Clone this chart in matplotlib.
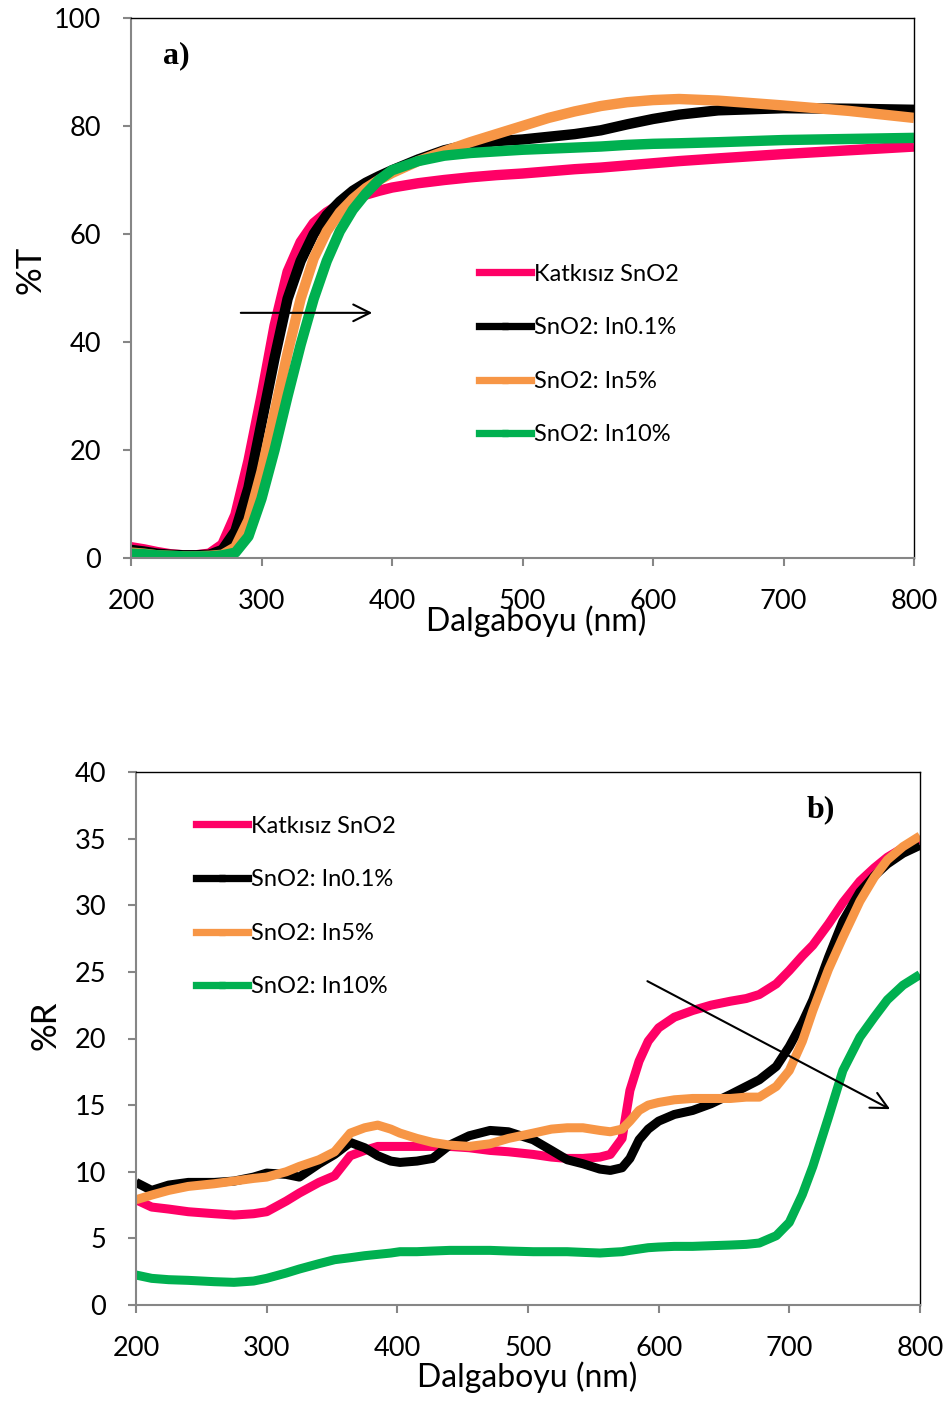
import matplotlib
matplotlib.use("Agg")
import matplotlib.pyplot as plt
from matplotlib.lines import Line2D

plt.rcParams['font.family'] = ['Lato', 'DejaVu Sans']

# ---------------- Panel a: Transmittance ----------------
wl_a = [200, 210, 220, 230, 240, 250, 260, 270, 280, 290, 300, 310, 320, 330, 340, 350,
        360, 370, 380, 390, 400, 420, 440, 460, 480, 500, 520, 540, 560, 580, 600, 620,
        650, 700, 750, 800]
T_undoped = [2.0, 1.6, 1.1, 0.7, 0.5, 0.5, 0.8, 2.5, 8, 18, 30, 43, 53, 58.5, 62, 64,
             65.5, 66.5, 67.3, 68, 68.6, 69.4, 70.0, 70.5, 70.9, 71.2, 71.6, 72.0, 72.3, 72.7, 73.1, 73.5,
             74.0, 74.8, 75.5, 76.2]
T_in01 = [1.5, 1.2, 0.8, 0.6, 0.5, 0.5, 0.6, 1.5, 5, 13, 25, 37, 48, 55, 60, 63.5,
          66, 68, 69.5, 70.7, 71.8, 73.8, 75.5, 76.6, 77.2, 77.5, 78.0, 78.5, 79.2, 80.3, 81.3, 82.1,
          82.9, 83.3, 83.2, 83.0]
T_in5 = [1.0, 0.8, 0.5, 0.4, 0.3, 0.3, 0.4, 0.6, 2, 7, 16, 27, 38, 48, 55.5, 60.5,
         64, 66.5, 68.5, 70.0, 71.3, 73.5, 75.3, 77.0, 78.5, 80.0, 81.5, 82.7, 83.7, 84.4, 84.8, 85.0,
         84.7, 83.8, 82.8, 81.5]
T_in10 = [0.8, 0.7, 0.5, 0.4, 0.3, 0.3, 0.3, 0.5, 1, 4, 11, 20, 30, 39.5, 48, 55,
          60.5, 64.5, 67.5, 70.0, 71.8, 73.5, 74.5, 75.0, 75.3, 75.6, 75.8, 76.0, 76.2, 76.5, 76.7, 76.8,
          77.0, 77.4, 77.6, 77.8]

# ---------------- Panel b: Reflectance ----------------
wl_b = [200, 212, 225, 240, 260, 275, 290, 300, 315, 325, 340, 352, 364, 375, 385, 395,
        402, 415, 427, 440, 455, 471, 485, 504, 518, 530, 542, 555, 563, 572, 578, 585,
        592, 600, 612, 626, 640, 655, 667, 677, 690, 700, 710, 718, 730, 741, 754, 765,
        775, 787, 800]
R_undoped = [7.9, 7.35, 7.2, 7.0, 6.85, 6.75, 6.85, 7.0, 7.8, 8.4, 9.2, 9.7, 11.2, 11.6, 11.9, 11.9,
             11.9, 11.9, 11.9, 11.9, 11.8, 11.6, 11.5, 11.3, 11.1, 11.0, 11.0, 11.1, 11.3, 12.5, 16.1, 18.3,
             19.8, 20.8, 21.6, 22.1, 22.5, 22.8, 23.0, 23.3, 24.1, 25.1, 26.2, 27.0, 28.6, 30.2, 31.8, 32.8,
             33.6, 34.3, 35.0]
R_in01 = [9.2, 8.6, 9.0, 9.2, 9.2, 9.3, 9.6, 9.9, 9.8, 9.6, 10.6, 11.3, 12.2, 11.8, 11.2, 10.8,
          10.7, 10.8, 11.0, 12.0, 12.7, 13.1, 13.0, 12.4, 11.6, 10.9, 10.6, 10.2, 10.1, 10.3, 11.0, 12.4,
          13.2, 13.8, 14.3, 14.6, 15.1, 15.8, 16.4, 16.9, 17.9, 19.4, 21.2, 22.9, 26.1, 28.8, 31.0, 32.2,
          33.1, 33.9, 34.5]
R_in5 = [7.9, 8.25, 8.6, 8.9, 9.1, 9.3, 9.5, 9.6, 10.0, 10.4, 10.9, 11.5, 12.9, 13.3, 13.5, 13.2,
         12.9, 12.5, 12.2, 12.0, 11.9, 12.1, 12.5, 12.9, 13.2, 13.3, 13.3, 13.1, 13.0, 13.2, 13.8, 14.6,
         15.0, 15.2, 15.4, 15.5, 15.5, 15.5, 15.6, 15.6, 16.4, 17.6, 19.8, 22.1, 25.2, 27.6, 30.3, 32.1,
         33.4, 34.4, 35.2]
R_in10 = [2.25, 2.0, 1.9, 1.85, 1.75, 1.7, 1.8, 2.0, 2.4, 2.7, 3.1, 3.4, 3.55, 3.7, 3.8, 3.9,
          4.0, 4.0, 4.05, 4.1, 4.1, 4.1, 4.05, 4.0, 4.0, 4.0, 3.95, 3.9, 3.95, 4.0, 4.1, 4.2,
          4.3, 4.35, 4.4, 4.4, 4.45, 4.5, 4.55, 4.65, 5.2, 6.2, 8.3, 10.4, 14.1, 17.6, 20.1, 21.6,
          22.9, 24.0, 24.8]

labels = ['Katkısız SnO2', 'SnO2: In0.1%', 'SnO2: In5%', 'SnO2: In10%']
colors = ['#FF0066', '#000000', '#F79646', '#00B050']
markers = ['D', 's', '^', 's']
msizes = [3, 5, 4, 5]

W, H = 946, 1401
fig = plt.figure(figsize=(W / 100, H / 100), dpi=100)

axA = fig.add_axes([131 / W, 1 - 558 / H, (914 - 131) / W, (558 - 18) / H])
axB = fig.add_axes([136 / W, 1 - 1305 / H, (920 - 136) / W, (1305 - 772) / H])

GRAY = '#868686'


def style(ax):
    for s in ['left', 'bottom']:
        ax.spines[s].set_color(GRAY)
        ax.spines[s].set_linewidth(1.5)
    for s in ['top', 'right']:
        ax.spines[s].set_color('black')
        ax.spines[s].set_linewidth(1.0)
    ax.tick_params(axis='both', direction='out', color=GRAY, width=1.5, length=5.5,
                   labelsize=19.5, labelcolor='black')
    ax.tick_params(axis='x', pad=17)
    ax.tick_params(axis='y', pad=16)


LW = 7.5
series_a = [T_undoped, T_in01, T_in5, T_in10]
for y, c in zip(series_a, colors):
    axA.plot(wl_a, y, color=c, lw=LW, solid_joinstyle='round', solid_capstyle='butt')
axA.set_xlim(200, 800)
axA.set_ylim(0, 100)
axA.set_xticks([200, 300, 400, 500, 600, 700, 800])
axA.set_yticks([0, 20, 40, 60, 80, 100])
style(axA)
axA.set_xlabel('Dalgaboyu (nm)', fontsize=23)
axA.xaxis.set_label_coords(0.518, -0.088)
axA.set_ylabel('%T', fontsize=25)
axA.yaxis.set_label_coords(-0.108, 0.533)
axA.text(0.041, 0.931, 'a)', transform=axA.transAxes, fontsize=23, fontweight='bold',
         family='Liberation Serif', va='center', ha='left')
axA.annotate('', xy=(387, 45.4), xytext=(282, 45.4),
             arrowprops=dict(arrowstyle='->', lw=1.5, color='black', mutation_scale=30))

LWB = 6.5
series_b = [R_undoped, R_in01, R_in5, R_in10]
for y, c in zip(series_b, colors):
    axB.plot(wl_b, y, color=c, lw=LWB, solid_joinstyle='round', solid_capstyle='butt')
axB.set_xlim(200, 800)
axB.set_ylim(0, 40)
axB.set_xticks([200, 300, 400, 500, 600, 700, 800])
axB.set_yticks([0, 5, 10, 15, 20, 25, 30, 35, 40])
style(axB)
axB.set_xlabel('Dalgaboyu (nm)', fontsize=23)
axB.xaxis.set_label_coords(0.499, -0.106)
axB.set_ylabel('%R', fontsize=25)
axB.yaxis.set_label_coords(-0.095, 0.525)
axB.text(0.855, 0.929, 'b)', transform=axB.transAxes, fontsize=23, fontweight='bold',
         family='Liberation Serif', va='center', ha='left')
axB.annotate('', xy=(779, 14.6), xytext=(589.5, 24.4),
             arrowprops=dict(arrowstyle='->', lw=1.5, color='black', mutation_scale=30))


def handles(lw):
    return [Line2D([0], [0], color=c, lw=lw * 0.7, marker=m, markersize=ms,
                   markerfacecolor=c, markeredgecolor=c)
            for c, m, ms in zip(colors, markers, msizes)]


legA = axA.legend(handles(LW), labels, loc='upper left', bbox_to_anchor=(0.444, 0.545),
                  frameon=False, fontsize=17, handlelength=2.2, handletextpad=0.15,
                  labelspacing=1.38, borderpad=0, borderaxespad=0)
legB = axB.legend(handles(LW), labels, loc='upper left', bbox_to_anchor=(0.076, 0.918),
                  frameon=False, fontsize=17, handlelength=2.2, handletextpad=0.15,
                  labelspacing=1.38, borderpad=0, borderaxespad=0)

fig.savefig('out.png', dpi=100)
